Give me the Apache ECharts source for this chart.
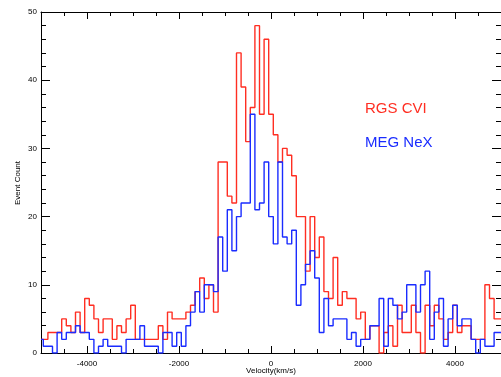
<!DOCTYPE html>
<html>
<head>
<meta charset="utf-8">
<script src="https://cdn.jsdelivr.net/npm/echarts@6/dist/echarts.min.js"></script>
<style>
html,body{margin:0;padding:0;background:#fff;}
#chart{width:501px;height:377px;}
</style>
</head>
<body>
<div id="chart"></div>
<script>
// Bin centres (km/s)
const velocity = [-5000,-4900,-4800,-4700,-4600,-4500,-4400,-4300,-4200,-4100,
 -4000,-3900,-3800,-3700,-3600,-3500,-3400,-3300,-3200,-3100,
 -3000,-2900,-2800,-2700,-2600,-2500,-2400,-2300,-2200,-2100,
 -2000,-1900,-1800,-1700,-1600,-1500,-1400,-1300,-1200,-1100,
 -1000,-900,-800,-700,-600,-500,-400,-300,-200,-100,
 0,100,200,300,400,500,600,700,800,900,
 1000,1100,1200,1300,1400,1500,1600,1700,1800,1900,
 2000,2100,2200,2300,2400,2500,2600,2700,2800,2900,
 3000,3100,3200,3300,3400,3500,3600,3700,3800,3900,
 4000,4100,4200,4300,4400,4500,4600,4700,4800,4900,5000];

// RGS CVI event counts
const rgsCVI = [2,2,3,3,3,5,4,3,6,3,
 8,7,5,3,5,5,2,4,3,5,
 7,2,2,2,2,2,4,2,6,5,
 5,5,6,7,9,11,8,10,6,28,
 28,23,22,44,39,31,36,48,35,46,
 35,32,28,30,29,26,20,20,12,20,
 14,17,9,8,14,7,9,8,8,5,
 6,2,4,4,0,3,4,1,7,3,
 3,7,3,0,7,4,7,5,2,3,
 7,3,4,4,2,2,2,10,8,5,5];

// MEG NeX event counts
const megNeX = [2,1,1,0,3,2,3,3,4,3,
 3,2,0,1,2,1,1,1,0,2,
 2,2,4,1,1,1,0,3,3,1,
 3,1,4,6,9,6,10,10,9,17,
 12,21,15,20,22,22,35,21,22,28,
 20,16,28,17,16,18,7,10,13,15,
 11,3,8,4,5,5,5,2,3,1,
 2,2,4,4,8,1,8,7,5,6,
 10,10,6,10,12,2,6,8,1,5,
 7,4,5,5,2,0,2,1,1,3,3];

const xMajor = [-4000,-2000,0,2000,4000];
const xMinor = [-4500,-3500,-3000,-2500,-1500,-1000,-500,500,1000,1500,2500,3000,3500,4500];
const yMajor = [0,10,20,30,40,50];
const yMinor = [2,4,6,8,12,14,16,18,22,24,26,28,32,34,36,38,42,44,46,48];

const seriesNames = ['RGS CVI','MEG NeX'];
const seriesColors = ['#ff2e22','#1a2cff'];

const FONT = '"Liberation Sans", Arial, Helvetica, sans-serif';

const chart = echarts.init(document.getElementById('chart'), null, {renderer:'canvas'});

function xAx(pos, ticks, len, labels, line){
  return {
    type:'value', min:-5000, max:5000, position:pos, gridIndex:0,
    axisLine:{show:line, onZero:false, lineStyle:{color:'#000', width:1}},
    axisTick:{show:true, inside:true, length:len, customValues:ticks, lineStyle:{color:'#000', width:1}},
    axisLabel:{show:labels, customValues:ticks, color:'#000', fontSize:8, fontFamily:FONT, margin:7,
      formatter:function(v){return String(v);}},
    splitLine:{show:false}
  };
}
function yAx(pos, ticks, len, labels, line){
  return {
    type:'value', min:0, max:50, position:pos, gridIndex:0,
    axisLine:{show:line, onZero:false, lineStyle:{color:'#000', width:1}},
    axisTick:{show:true, inside:true, length:len, customValues:ticks, lineStyle:{color:'#000', width:1}},
    axisLabel:{show:labels, customValues:ticks, color:'#000', fontSize:8, fontFamily:FONT, margin:4,
      formatter:function(v){return String(v);}},
    splitLine:{show:false}
  };
}

const option = {
  animation:false,
  backgroundColor:'#fff',
  grid:{left:41, right:0, top:12, bottom:24, containLabel:false},
  xAxis:[
    xAx('bottom', xMajor, 7, true, true),
    xAx('bottom', xMinor, 4, false, false),
    xAx('top', xMajor, 7, false, true),
    xAx('top', xMinor, 4, false, false)
  ],
  yAxis:[
    yAx('left', yMajor, 9, true, true),
    yAx('left', yMinor, 5, false, false),
    yAx('right', yMajor, 9, false, true),
    yAx('right', yMinor, 5, false, false)
  ],
  series:[
    {
      name:seriesNames[0], type:'line', step:'middle', xAxisIndex:0, yAxisIndex:0,
      data: velocity.map((v,i)=>[v, rgsCVI[i]]),
      symbol:'none', showSymbol:false, clip:true,
      lineStyle:{color:seriesColors[0], width:1.4}
    },
    {
      name:seriesNames[1], type:'line', step:'middle', xAxisIndex:0, yAxisIndex:0,
      data: velocity.map((v,i)=>[v, megNeX[i]]),
      symbol:'none', showSymbol:false, clip:true,
      lineStyle:{color:seriesColors[1], width:1.4}
    }
  ],
  graphic:[
    {type:'text', x:18, y:183, rotation:Math.PI/2,
     style:{text:'Event Count', fill:'#000', font:'8px '+FONT, textAlign:'center', textVerticalAlign:'middle'}},
    {type:'text', x:271, y:371,
     style:{text:'Velocity(km/s)', fill:'#000', font:'8px '+FONT, textAlign:'center', textVerticalAlign:'middle'}},
    {type:'text', x:365, y:109,
     style:{text:seriesNames[0], fill:seriesColors[0], font:'15px '+FONT, textAlign:'left', textVerticalAlign:'middle'}},
    {type:'text', x:365, y:143,
     style:{text:seriesNames[1], fill:seriesColors[1], font:'15px '+FONT, textAlign:'left', textVerticalAlign:'middle'}}
  ]
};
chart.setOption(option);
</script>
</body>
</html>
